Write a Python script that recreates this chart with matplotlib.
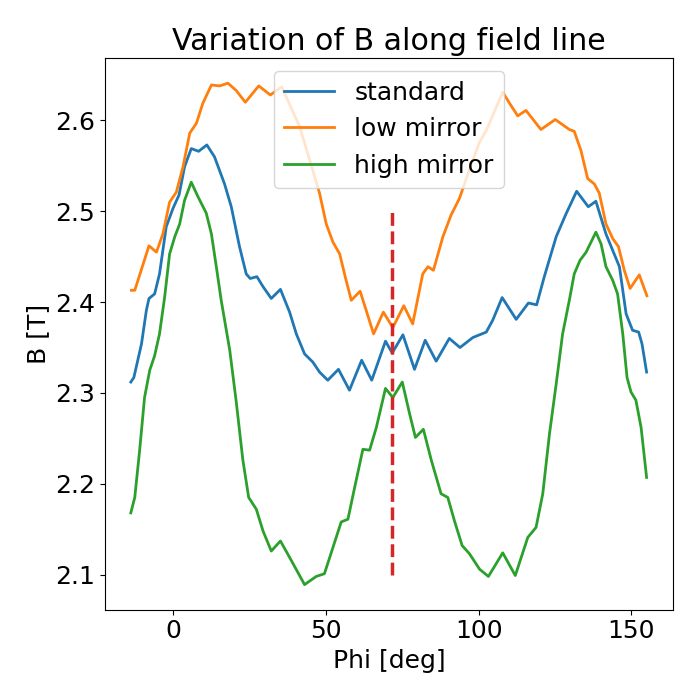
#!/usr/bin/env python3
"""
Variation of B along a field line for three mirror configurations.

Output:
    out.png
"""
import matplotlib
matplotlib.use("Agg")
import matplotlib.pyplot as plt

# values (phi in deg, B in T)
std_phi = [-13.9, -12.9, -10.4, -8.8, -7.95, -6.1, -4.5, -2.3, -0.1, 1.9,
           3.7, 5.9, 8.3, 11.0, 13.5, 16.8, 19.0, 21.7, 23.9, 25.2,
           27.4, 29.4, 32.1, 35.1, 38.1, 40.3, 43.0, 45.7, 47.9, 50.6,
           54.1, 57.7, 61.7, 65.0, 69.5, 71.7, 75.2, 79.0, 82.5, 86.1,
           90.4, 93.9, 98.1, 102.5, 104.6, 107.7, 112.3, 116.3, 119.0, 121.5,
           125.4, 128.6, 132.1, 135.9, 138.4, 141.7, 143.9, 146.1, 148.3, 150.4,
           152.4, 153.5, 155.0]
std_B = [2.312, 2.317, 2.354, 2.391, 2.404, 2.409, 2.431, 2.483, 2.503, 2.518,
         2.549, 2.569, 2.566, 2.573, 2.560, 2.530, 2.505, 2.461, 2.431, 2.426,
         2.428, 2.417, 2.404, 2.414, 2.389, 2.365, 2.343, 2.334, 2.323, 2.314,
         2.326, 2.303, 2.336, 2.314, 2.357, 2.344, 2.364, 2.326, 2.358, 2.335,
         2.360, 2.350, 2.361, 2.367, 2.380, 2.405, 2.381, 2.399, 2.397, 2.428,
         2.472, 2.497, 2.522, 2.505, 2.511, 2.475, 2.457, 2.439, 2.387, 2.369,
         2.367, 2.354, 2.323]

low_phi = [-13.7, -12.6, -7.95, -5.5, -3.4, -1.2, 1.0, 3.2, 5.4, 7.6,
           9.7, 12.5, 15.2, 17.9, 20.6, 23.6, 28.0, 31.8, 35.5, 41.4,
           45.7, 47.9, 50.1, 52.3, 54.5, 56.6, 58.3, 61.2, 65.6, 68.8,
           71.9, 75.5, 78.4, 81.7, 83.4, 85.2, 88.3, 91.0, 93.7, 97.0,
           100.3, 102.5, 107.9, 110.1, 112.8, 115.5, 120.4, 125.1, 129.7, 131.3,
           133.5, 135.7, 137.9, 139.5, 141.7, 143.9, 145.8, 147.7, 149.6, 152.6,
           155.1]
low_B = [2.413, 2.413, 2.462, 2.455, 2.475, 2.510, 2.521, 2.549, 2.586, 2.597,
         2.619, 2.639, 2.638, 2.641, 2.633, 2.620, 2.638, 2.628, 2.637, 2.593,
         2.545, 2.520, 2.486, 2.466, 2.453, 2.424, 2.402, 2.412, 2.365, 2.389,
         2.372, 2.396, 2.376, 2.431, 2.439, 2.435, 2.472, 2.496, 2.514, 2.546,
         2.576, 2.589, 2.631, 2.619, 2.605, 2.611, 2.590, 2.601, 2.590, 2.588,
         2.567, 2.536, 2.530, 2.520, 2.486, 2.470, 2.461, 2.435, 2.415, 2.430,
         2.407]

high_phi = [-13.9, -12.6, -11.0, -9.4, -7.7, -6.1, -4.5, -2.8, -1.2, 0.5,
            2.1, 3.7, 5.9, 8.1, 10.8, 12.5, 14.1, 15.7, 18.5, 20.6,
            22.8, 24.7, 27.2, 29.4, 32.1, 35.1, 38.1, 43.0, 46.8, 49.5,
            52.3, 55.0, 57.2, 59.4, 62.1, 64.3, 66.5, 69.5, 71.9, 75.0,
            77.4, 79.3, 81.9, 84.5, 87.7, 89.9, 92.1, 94.6, 97.0, 100.3,
            103.2, 107.9, 112.0, 116.1, 118.8, 121.0, 123.2, 125.4, 127.5, 129.7,
            131.3, 133.2, 135.2, 138.4, 140.1, 141.7, 143.9, 145.5, 147.2, 148.6,
            149.9, 151.5, 153.2, 155.0]
high_B = [2.168, 2.185, 2.237, 2.295, 2.325, 2.341, 2.365, 2.406, 2.453, 2.472,
          2.486, 2.512, 2.532, 2.516, 2.498, 2.475, 2.439, 2.402, 2.347, 2.291,
          2.226, 2.185, 2.172, 2.148, 2.126, 2.137, 2.119, 2.089, 2.098, 2.101,
          2.130, 2.158, 2.161, 2.196, 2.238, 2.237, 2.262, 2.305, 2.295, 2.312,
          2.277, 2.251, 2.260, 2.226, 2.189, 2.185, 2.159, 2.132, 2.123, 2.106,
          2.098, 2.124, 2.099, 2.141, 2.152, 2.189, 2.255, 2.310, 2.365, 2.402,
          2.431, 2.446, 2.455, 2.477, 2.464, 2.439, 2.424, 2.409, 2.365, 2.317,
          2.301, 2.292, 2.262, 2.207]

labels = ["standard", "low mirror", "high mirror"]
phi_mark = 71.5
mark_range = (2.1, 2.5)


def main():
    plt.rcParams["font.size"] = 18
    fig = plt.figure(figsize=(7, 7), dpi=100)
    ax = fig.add_subplot(111)
    fig.subplots_adjust(left=0.15, right=0.961, bottom=0.129, top=0.917)

    ax.plot(std_phi, std_B, lw=2, label=labels[0])
    ax.plot(low_phi, low_B, lw=2, label=labels[1])
    ax.plot(high_phi, high_B, lw=2, label=labels[2])
    ax.vlines(phi_mark, *mark_range, colors="tab:red", linestyles="--", lw=2.5)

    ax.set_xlabel("Phi [deg]")
    ax.set_ylabel("B [T]")
    ax.set_title("Variation of B along field line")
    ax.legend(loc="upper center")

    fig.savefig("out.png", dpi=100)


if __name__ == "__main__":
    main()
